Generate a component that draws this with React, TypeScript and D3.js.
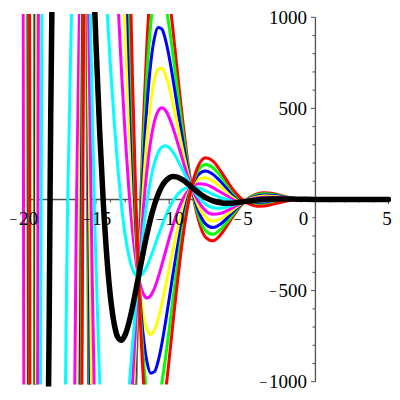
import React from 'react';
import * as d3 from 'd3';

// shared x samples (the steep left part is given per curve below)
const X_GRID = [
  -15.75, -15.5, -15.25, -15, -14.75, -14.5, -14.25, -14, -13.75, -13.5, -13.25, -13,
  -12.75, -12.5, -12.25, -12, -11.75, -11.5, -11.25, -11, -10.75, -10.5, -10.25, -10,
  -9.75, -9.5, -9.25, -9, -8.75, -8.5, -8.25, -8,
  -7.5, -7, -6.5, -6, -5.5, -5, -4.5, -4, -3.5, -3, -2.5, -2, -1.5, -1,
  0, 1, 2.5, 5,
];

// y values per curve, on X_GRID
const yNeg6 = [3150, -1014, -4201, -6451, -7850, -8507, -8550, -8114, -7328, -6312, -5175, -4003, -2871, -1832, -921, -161, 439, 883, 1180, 1346, 1402, 1368, 1266, 1117, 940, 750, 561, 383, 223, 86, -25, -110, -208, -227, -195, -138, -77, -25, 11, 31, 37, 34, 25, 15, 6, -0.6, -6, -4.5, -0.1, 0.5];
const yNeg5 = [3070, -507, -3265, -5233, -6478, -7092, -7179, -6852, -6220, -5386, -4441, -3460, -2506, -1625, -849, -198, 319, 705, 967, 1117, 1173, 1152, 1072, 951, 804, 646, 487, 336, 201, 84, -12, -86, -172, -191, -166, -119, -67, -23, 8, 26, 31, 29, 21, 13, 5.4, -0.3, -5, -3.8, -0.2, 0.5];
const yNeg4 = [2990, 0, -2329, -4015, -5106, -5676, -5807, -5590, -5113, -4460, -3707, -2916, -2140, -1418, -777, -235, 199, 527, 753, 888, 944, 936, 878, 784, 668, 541, 413, 290, 178, 81, 1, -61, -135, -154, -136, -99, -57, -21, 5, 20, 25, 23, 18, 11, 4.8, 0.1, -4, -3.2, -0.2, 0.4];
const yNeg3 = [2910, 506, -1394, -2796, -3735, -4261, -4436, -4328, -4006, -3535, -2973, -2372, -1774, -1211, -705, -272, 79, 349, 540, 659, 715, 720, 684, 618, 533, 437, 339, 243, 156, 79, 15, -36, -99, -118, -107, -79, -47, -19, 2, 14, 19, 18, 14, 9, 4.2, 0.4, -3, -2.5, -0.2, 0.3];
const yNeg2 = [2830, 1013, -458, -1578, -2364, -2845, -3064, -3066, -2898, -2609, -2240, -1829, -1409, -1004, -633, -310, -41, 171, 327, 430, 486, 504, 490, 451, 397, 333, 265, 197, 133, 76, 28, -11, -62, -81, -77, -60, -38, -17, -1, 9, 13, 13, 11, 7, 3.6, 0.8, -2, -1.9, -0.2, 0.2];
const yNeg1 = [2750, 1520, 478, -359, -992, -1430, -1692, -1804, -1791, -1683, -1506, -1285, -1043, -797, -561, -347, -161, -7, 113, 201, 257, 288, 295, 285, 261, 229, 190, 150, 111, 74, 41, 13, -26, -45, -48, -40, -28, -15, -4, 3, 7, 8, 7, 5, 3, 1.1, -1, -1.2, -0.3, 0.2];
const yZero = [2670, 2026, 1414, 859, 380, -15, -321, -542, -684, -757, -772, -742, -677, -590, -489, -384, -281, -185, -100, -29, 29, 72, 101, 119, 126, 124, 116, 104, 88, 71, 54, 38, 10, -8, -18, -21, -18, -13, -8, -3, 1, 3, 3, 3, 2.4, 1.5, 0, -0.5, -0.3, 0.1];
const yPos1 = [2590, 2533, 2350, 2077, 1751, 1401, 1051, 720, 424, 169, -39, -198, -311, -383, -417, -421, -400, -363, -313, -258, -200, -144, -93, -48, -10, 20, 42, 57, 66, 69, 67, 63, 47, 28, 11, -1, -8, -11, -11, -8, -5, -2, 0, 1, 1.7, 1.8, 1, 0.1, -0.3, 0];
const yPos2 = [2510, 3040, 3285, 3296, 3123, 2816, 2422, 1983, 1531, 1095, 695, 346, 54, -176, -345, -458, -520, -541, -527, -487, -429, -360, -287, -214, -146, -84, -32, 11, 43, 66, 81, 87, 83, 65, 41, 19, 2, -9, -14, -14, -11, -8, -4, -1, 1.1, 2.1, 2, 0.8, -0.3, -0.1];
const yPos3 = [2430, 3546, 4221, 4514, 4495, 4232, 3794, 3245, 2638, 2021, 1429, 889, 420, 32, -273, -495, -640, -719, -740, -716, -658, -576, -481, -381, -281, -189, -106, -36, 21, 64, 94, 112, 120, 101, 71, 38, 11, -7, -17, -20, -18, -13, -8, -3, 0.5, 2.5, 3, 1.4, -0.3, -0.1];
const yPos4 = [2350, 4053, 5157, 5733, 5866, 5647, 5166, 4507, 3745, 2947, 2162, 1433, 786, 239, -201, -532, -760, -897, -953, -945, -887, -793, -675, -547, -417, -293, -180, -82, -1, 61, 107, 137, 156, 138, 100, 58, 21, -5, -20, -25, -24, -18, -11, -5, -0.1, 2.8, 4, 2.1, -0.4, -0.2];
const yPos5 = [2270, 4560, 6093, 6951, 7238, 7062, 6537, 5769, 4853, 3873, 2896, 1976, 1152, 446, -129, -569, -880, -1075, -1167, -1174, -1116, -1009, -870, -714, -553, -397, -254, -129, -24, 59, 120, 161, 192, 174, 130, 78, 31, -3, -23, -31, -30, -23, -15, -7, -0.7, 3.2, 5, 2.8, -0.4, -0.3];
const yPos6 = [2190, 5067, 7029, 8169, 8609, 8478, 7909, 7031, 5960, 4799, 3630, 2520, 1517, 653, -57, -606, -1000, -1253, -1380, -1403, -1344, -1225, -1064, -880, -688, -501, -328, -175, -46, 56, 133, 186, 229, 211, 159, 97, 41, -1, -26, -37, -36, -28, -18, -9, -1.3, 3.5, 6, 3.4, -0.4, -0.4];

// near-vertical crossings on the left and zero crossings, as [x, y]
const eNeg6 = [[-20.3, -1500], [-19.21, -1500], [-19.194, 0], [-19.178, 1500], [-15.567, 0], [-11.939, 0]];
const eNeg5 = [[-20.3, -1500], [-19.186, -1500], [-19.167, 0], [-19.148, 1500], [-15.539, 0], [-11.912, 0]];
const eNeg4 = [[-20.3, -1500], [-19.151, -1500], [-19.128, 0], [-19.105, 1500], [-11.872, 0]];
const eNeg3 = [[-20.3, -1500], [-19.097, -1500], [-19.067, 0], [-19.037, 1500], [-15.44, 0], [-11.812, 0]];
const eNeg2 = [[-20.3, -1500], [-19.005, -1500], [-18.962, 0], [-18.919, 1500], [-15.335, 0], [-11.707, 0]];
const eNeg1 = [[-20.3, -1500], [-18.817, -1500], [-18.743, 0], [-18.669, 1500], [-15.115, 0], [-11.487, 0]];
const eZero = [[-20.3, -1632], [-18.311, -1632], [-18.138, 0], [-17.965, 1374]];
const ePos1 = [[-20.3, -1736], [-17.245, -1736], [-16.929, 0], [-16.613, 1263], [-13.301, 0]];
const ePos2 = [[-20.3, 1837], [-19.992, 1500], [-19.952, 0], [-19.912, -1500], [-16.571, -1682], [-16.324, 0], [-16.077, 1315], [-12.697, 0]];
const ePos3 = [[-20.3, 1500], [-19.761, 1500], [-19.732, 0], [-19.703, -1500], [-16.285, -1500], [-16.105, 0], [-15.925, 1500], [-12.477, 0]];
const ePos4 = [[-20.3, 1500], [-19.65, 1500], [-19.627, 0], [-19.604, -1500], [-16.14, -1500], [-16.0, 0], [-15.86, 1500], [-12.372, 0]];
const ePos5 = [[-20.3, 1500], [-19.585, 1500], [-19.567, 0], [-19.549, -1500], [-16.052, -1500], [-15.939, 0], [-15.826, 1500], [-12.312, 0]];
const ePos6 = [[-20.3, 1500], [-19.544, 1500], [-19.528, 0], [-19.512, -1500], [-15.995, -1500], [-15.9, 0], [-15.805, 1500], [-12.273, 0]];

const X_LABELS = [-20, -15, -10, -5, 0, 5];
const Y_LABELS = [-1000, -500, 500, 1000];

const SERIES = [
  { c: -6, color: '#ff0000', ys: yNeg6, extra: eNeg6 },
  { c: -5, color: '#00ff00', ys: yNeg5, extra: eNeg5 },
  { c: -4, color: '#0000ff', ys: yNeg4, extra: eNeg4 },
  { c: -3, color: '#ffff00', ys: yNeg3, extra: eNeg3 },
  { c: -2, color: '#ff00ff', ys: yNeg2, extra: eNeg2 },
  { c: -1, color: '#00ffff', ys: yNeg1, extra: eNeg1 },
  { c: 1, color: '#00ffff', ys: yPos1, extra: ePos1 },
  { c: 2, color: '#ff00ff', ys: yPos2, extra: ePos2 },
  { c: 3, color: '#ffff00', ys: yPos3, extra: ePos3 },
  { c: 4, color: '#0000ff', ys: yPos4, extra: ePos4 },
  { c: 5, color: '#00ff00', ys: yPos5, extra: ePos5 },
  { c: 6, color: '#ff0000', ys: yPos6, extra: ePos6 },
  { c: 0, color: '#000000', ys: yZero, extra: eZero },
];

const xScale = d3.scaleLinear().domain([-20, 5]).range([22.8, 388.6]);
const yScale = d3.scaleLinear().domain([-1000, 1000]).range([381.7, 17.3]);

const line = d3.line<number[]>()
  .x(d => xScale(d[0]))
  .y(d => yScale(d[1]))
  .curve(d3.curveMonotoneX);

function curvePoints(s: typeof SERIES[0]) {
  const pts = X_GRID.map((x, i) => [x, s.ys[i]]).concat(s.extra);
  pts.sort((a, b) => a[0] - b[0]);
  return pts;
}

// Maple style label: short minus, small gap, then the digits
function Label({ v, x, y, anchor }: { v: number; x: number; y: number; anchor: string }) {
  if (v >= 0) {
    return <text x={x} y={y} textAnchor={anchor}>{String(v)}</text>;
  }
  return (
    <text x={x} y={y} textAnchor={anchor}>
      <tspan fontSize={14} dy={-1}>{'\u2212'}</tspan>
      <tspan dx={1.5} dy={1}>{String(Math.abs(v))}</tspan>
    </text>
  );
}

export default function App() {
  const x0 = xScale(0);
  const y0 = yScale(0);
  const xTicks = d3.range(-20, 6, 1);
  const yTicks = d3.range(-1000, 1001, 100);
  const font = '"Liberation Serif", "Times New Roman", serif';

  return (
    <svg width={400} height={400} style={{ position: 'fixed', left: 0, top: 0, background: '#fff' }}>
      <defs>
        <clipPath id="clipColor"><rect x={21.3} y={14} width={369} height={370.5} /></clipPath>
        <clipPath id="clipBlack"><rect x={20} y={12} width={371} height={374.5} /></clipPath>
      </defs>

      {/* axes */}
      <g stroke="#505050" strokeWidth={1.3}>
        <line x1={xScale(-20)} x2={xScale(5)} y1={y0} y2={y0} />
        <line x1={x0} x2={x0} y1={yScale(-1000)} y2={yScale(1000)} />
        {xTicks.map(t => (
          <line key={'xt' + t} x1={xScale(t)} x2={xScale(t)} y1={y0} y2={y0 + (t % 5 === 0 ? 4.5 : 3)} strokeWidth={1} />
        ))}
        {yTicks.map(t => (
          <line key={'yt' + t} x1={x0} x2={x0 - (t % 500 === 0 ? 4.5 : 3)} y1={yScale(t)} y2={yScale(t)} strokeWidth={1} />
        ))}
      </g>

      {/* curves */}
      {SERIES.map(s => (
        <path
          key={s.c}
          d={line(curvePoints(s)) || ''}
          fill="none"
          stroke={s.color}
          strokeWidth={s.c === 0 ? 5.5 : 3}
          strokeLinejoin="round"
          strokeLinecap="round"
          clipPath={s.c === 0 ? 'url(#clipBlack)' : 'url(#clipColor)'}
        />
      ))}

      {/* tick labels */}
      <g fontFamily={font} fontSize={19} fill="#000">
        {X_LABELS.map(v => (
          <Label
            key={'xl' + v}
            v={v}
            x={v === 0 ? x0 - 12 : v === 5 ? xScale(v) - 1.5 : xScale(v) + 1}
            y={y0 + 25}
            anchor="middle"
          />
        ))}
        {Y_LABELS.map(v => (
          <Label key={'yl' + v} v={v} x={x0 - 8.5} y={yScale(v) + 6.5} anchor="end" />
        ))}
      </g>
    </svg>
  );
}
